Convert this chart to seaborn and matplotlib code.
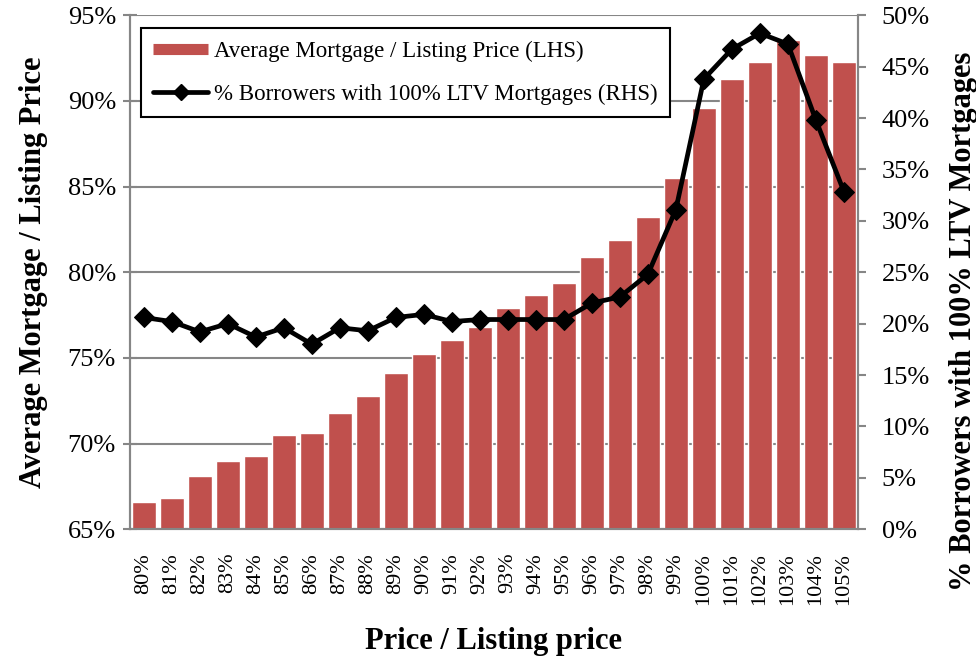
import numpy as np
import pandas as pd
import matplotlib
matplotlib.use("Agg")
import matplotlib.pyplot as plt
import seaborn as sns
from matplotlib.ticker import PercentFormatter, FixedLocator
from matplotlib.lines import Line2D

categories = [f"{p}%" for p in range(80, 106)]
avg_mortgage = [66.6, 66.85, 68.1, 69.0, 69.25, 70.5, 70.6, 71.8, 72.8, 74.1,
                75.2, 76.05, 76.8, 77.9, 78.7, 79.4, 80.9, 81.9, 83.25, 85.5,
                89.6, 91.3, 92.3, 93.55, 92.7, 92.3]
pct_100ltv = [20.6, 20.2, 19.2, 20.0, 18.7, 19.6, 18.0, 19.6, 19.3, 20.6,
              20.9, 20.2, 20.4, 20.4, 20.4, 20.4, 22.0, 22.6, 24.8, 31.1,
              43.8, 46.7, 48.25, 47.2, 39.8, 32.85]
left_ticks = [65, 70, 75, 80, 85, 90, 95]
right_ticks = list(range(0, 51, 5))

df = pd.DataFrame({"cat": categories, "avg": avg_mortgage, "ltv": pct_100ltv})

sns.set_theme(style="white")
plt.rcParams["font.family"] = ["Liberation Serif", "DejaVu Serif"]
plt.rcParams["text.color"] = "black"
plt.rcParams["axes.labelcolor"] = "black"
plt.rcParams["xtick.color"] = "black"
plt.rcParams["ytick.color"] = "black"

fig = plt.figure(figsize=(9.76, 6.64), dpi=100)
ax = fig.add_axes([0.133, 0.203, 0.746, 0.774])
bar_color = "#C0504D"
grid_col = "#868686"

sns.barplot(data=df, x="cat", y="avg", color=bar_color, saturation=1,
            width=0.86, ax=ax, zorder=2)
ax.set_ylim(65, 95)
ax.set_xlim(-0.5, len(categories) - 0.5)
ax.yaxis.set_major_locator(FixedLocator(left_ticks))
ax.yaxis.set_major_formatter(PercentFormatter(decimals=0))
ax.grid(axis="y", color=grid_col, linewidth=1.5, zorder=0)
ax.set_axisbelow(True)
for s in ax.spines.values():
    s.set_color(grid_col)
    s.set_linewidth(1.5)
ax.spines["top"].set_visible(False)

ax.set_xticks(range(len(categories)))
ax.set_xticklabels(categories, rotation=90, fontsize=16, color="black")
ax.tick_params(axis="x", which="major", length=0, pad=17)
ax.set_xticks(np.arange(-0.5, len(categories), 1), minor=True)
ax.tick_params(axis="x", which="minor", length=5, width=1.5, color=grid_col, direction="out")
ax.tick_params(axis="y", labelsize=19, labelcolor="black", length=10, width=1.5,
               color=grid_col, direction="inout", left=True, pad=5)
ax.set_xlabel("Price / Listing price", fontsize=22, fontweight="bold", labelpad=16, color="black")
ax.set_ylabel("Average Mortgage / Listing Price", fontsize=22, fontweight="bold", labelpad=14, color="black")

ax2 = ax.twinx()
sns.lineplot(data=df, x="cat", y="ltv", color="black", linewidth=3.4,
             marker="D", markersize=10, markeredgecolor="black", ax=ax2, zorder=3, sort=False)
ax2.set_ylim(0, 50)
ax2.set_xlim(-0.5, len(categories) - 0.5)
ax2.yaxis.set_major_locator(FixedLocator(right_ticks))
ax2.yaxis.set_major_formatter(PercentFormatter(decimals=0))
ax2.tick_params(axis="y", labelsize=19, labelcolor="black", length=6, width=1.5,
                color=grid_col, direction="out", right=True, pad=11)
for s in ax2.spines.values():
    s.set_color(grid_col)
    s.set_linewidth(1.5)
ax2.spines["top"].set_visible(False)
ax2.set_ylabel("% Borrowers with 100% LTV Mortgages", fontsize=22, fontweight="bold",
               color="black")
ax2.yaxis.set_label_coords(1.125, 0.405)
ax2.set_xlabel("")

handles = [Line2D([0], [0], color=bar_color, linewidth=8, solid_capstyle="butt"),
           Line2D([0], [0], color="black", linewidth=3.4, marker="D", markersize=8)]
labels = ["Average Mortgage / Listing Price (LHS)",
          "% Borrowers with 100% LTV Mortgages (RHS)"]
leg = ax2.legend(handles, labels, loc="upper left", bbox_to_anchor=(0.015, 0.975),
                 fontsize=16.5, frameon=True, fancybox=False, framealpha=1,
                 edgecolor="black", borderpad=0.55, labelspacing=0.95,
                 handlelength=2.4, handletextpad=0.25, borderaxespad=0)
leg.get_frame().set_linewidth(1.5)

fig.savefig("out.png", dpi=100)
